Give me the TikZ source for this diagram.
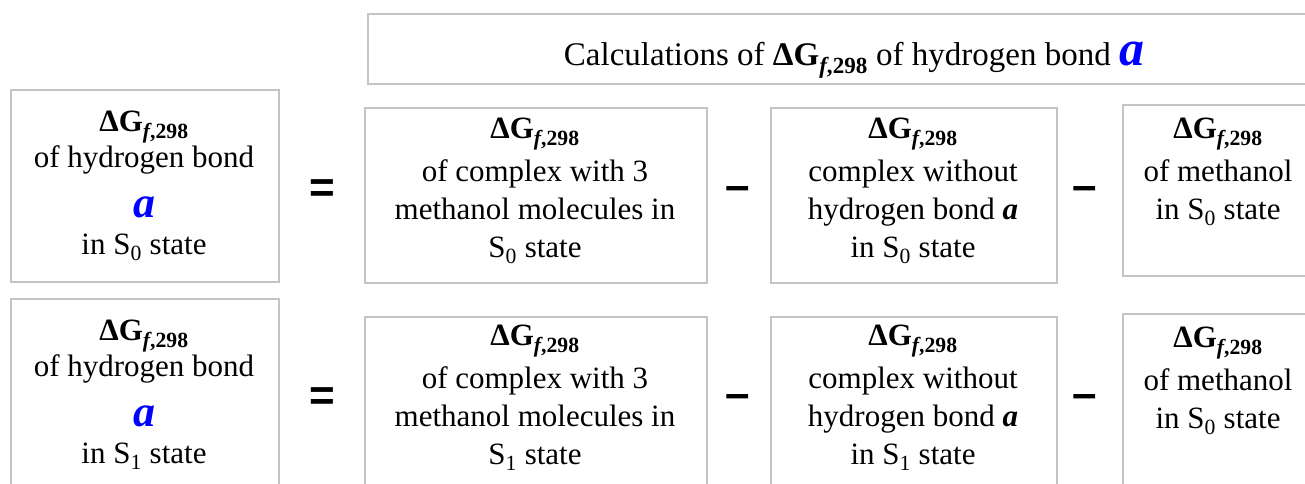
\documentclass[tikz,border=0pt]{standalone}
\usepackage{fontspec}
\setmainfont{Liberation Serif}
\newfontfamily\opfont{Liberation Sans}
\definecolor{boxgray}{HTML}{C4C4C4}
\definecolor{ablue}{HTML}{0000FF}
\newcommand{\dG}{\textbf{ΔG\textsubscript{\textit{f},298}}}
\newcommand{\bigA}[1]{{\color{ablue}\fontsize{#1}{#1}\selectfont\textbf{\textit{a}}}}
\begin{document}
\begin{tikzpicture}[x=1pt,y=-1pt,
  box/.style={draw=boxgray, line width=2pt, inner sep=0pt, anchor=north west},
  txt/.style={align=center, inner sep=0pt, font=\rmfamily\fontsize{31}{38}\selectfont},
  op/.style={inner sep=0pt, font=\opfont\bfseries\fontsize{44}{44}\selectfont}]
\useasboundingbox (0,0) rectangle (1305,484);
\clip (0,0) rectangle (1305,484);
% boxes
\node[box, minimum width=972pt, minimum height=70pt] (H) at (367,13) {};
\node[box, minimum width=268pt, minimum height=192pt] (A1) at (10,89) {};
\node[box, minimum width=268pt, minimum height=200pt] (A2) at (10,298) {};
\node[box, minimum width=342pt, minimum height=175pt] (B1) at (364,107) {};
\node[box, minimum width=342pt, minimum height=180pt] (B2) at (364,316) {};
\node[box, minimum width=286pt, minimum height=175pt] (C1) at (770,107) {};
\node[box, minimum width=286pt, minimum height=180pt] (C2) at (770,316) {};
\node[box, minimum width=192pt, minimum height=171pt] (D1) at (1122,104) {};
\node[box, minimum width=192pt, minimum height=180pt] (D2) at (1122,313) {};
% header text
\node[txt, anchor=base, font=\rmfamily\fontsize{33}{38}\selectfont] (Ht) at (854,66) {Calculations of \dG\ of hydrogen bond \bigA{50}};
% row 1
\node[txt] (tA1) at (144,186) {\dG\\[-2pt]of hydrogen bond\\[12pt]\bigA{44}\\[-1pt]in S\textsubscript{0} state};
\node[txt] (tB1) at (535,191) {\dG\\[5pt]of complex with 3\\methanol molecules in\\S\textsubscript{0} state};
\node[txt] (tC1) at (913,191) {\dG\\[5pt]complex without\\hydrogen bond \textbf{\textit{a}}\\in S\textsubscript{0} state};
\node[txt] (tD1) at (1218,172) {\dG\\[5pt]of methanol\\in S\textsubscript{0} state};
\node[op] (eq1) at (322,191) {=};
\node[op] (m1) at (738,194) {–};
\node[op] (m2) at (1085,194) {–};
% row 2
\node[txt] (tA2) at (144,395) {\dG\\[-2pt]of hydrogen bond\\[12pt]\bigA{44}\\[-1pt]in S\textsubscript{1} state};
\node[txt] (tB2) at (535,398) {\dG\\[5pt]of complex with 3\\methanol molecules in\\S\textsubscript{1} state};
\node[txt] (tC2) at (913,398) {\dG\\[5pt]complex without\\hydrogen bond \textbf{\textit{a}}\\in S\textsubscript{1} state};
\node[txt] (tD2) at (1218,381) {\dG\\[5pt]of methanol\\in S\textsubscript{0} state};
\node[op] (eq2) at (322,399) {=};
\node[op] (m3) at (738,402) {–};
\node[op] (m4) at (1085,402) {–};
\end{tikzpicture}
\end{document}
